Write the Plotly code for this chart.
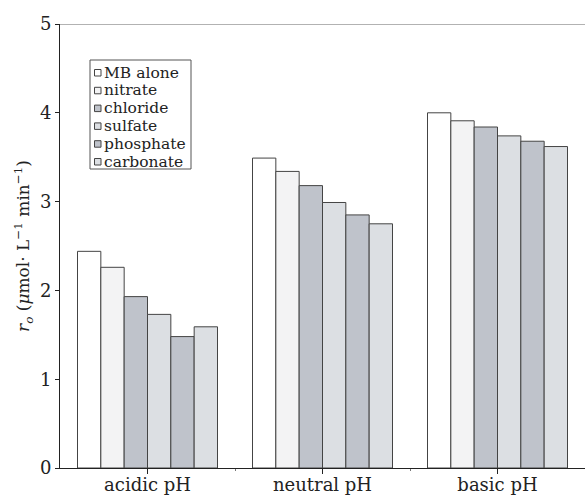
import plotly.graph_objects as go

categories = ["acidic pH", "neutral pH", "basic pH"]
series_names = ["MB alone", "nitrate", "chloride", "sulfate", "phosphate", "carbonate"]
mb_alone = [2.44, 3.49, 4.00]
nitrate = [2.26, 3.34, 3.91]
chloride = [1.93, 3.18, 3.84]
sulfate = [1.73, 2.99, 3.74]
phosphate = [1.48, 2.85, 3.68]
carbonate = [1.59, 2.75, 3.62]
y_ticks = [0, 1, 2, 3, 4, 5]

series_values = [mb_alone, nitrate, chloride, sulfate, phosphate, carbonate]
colors = ["#ffffff", "#f3f3f4", "#bfc3cb", "#dcdfe3", "#bfc3cb", "#dcdfe3"]

FONT = "DejaVu Serif"
W, H = 585, 497
ML, MR, MT, MB = 60, 0, 24, 29
PW, PH = W - ML - MR, H - MT - MB
xpos = list(range(len(categories)))


def px(x):
    return (x - ML) / PW


def py(y):
    return (H - MB - y) / PH


fig = go.Figure()
for name, vals, col in zip(series_names, series_values, colors):
    fig.add_trace(go.Bar(
        x=xpos, y=vals, name=name,
        marker=dict(color=col, line=dict(color="#444", width=1)),
    ))

fig.update_layout(
    width=W, height=H,
    margin=dict(l=ML, r=MR, t=MT, b=MB, autoexpand=False),
    paper_bgcolor="white", plot_bgcolor="white",
    barmode="group", bargap=0.2, bargroupgap=0,
    font=dict(family=FONT, size=18, color="#222"),
    showlegend=False,
    xaxis=dict(
        range=[-0.5, 2.5], tickvals=xpos, ticktext=categories,
        showline=True, linecolor="#222", linewidth=1,
        ticks="outside", ticklen=5, tickcolor="#222",
        ticklabelstandoff=-5,
        showgrid=False, zeroline=False, automargin=False,
        minor=dict(tickvals=[0.5, 1.5], ticks="outside", ticklen=2, tickcolor="#777", showgrid=False),
        tickfont=dict(family=FONT, size=18),
    ),
    yaxis=dict(
        range=[0, 5], tickvals=y_ticks,
        showline=True, linecolor="#222", linewidth=1,
        ticks="outside", ticklen=4, tickcolor="#222",
        showgrid=False, zeroline=False, automargin=False,
        tickfont=dict(family=FONT, size=18),
        title=dict(text="<i>r<sub>o</sub></i> (<i>μ</i>mol· L<sup>−1</sup> min<sup>−1</sup>)",
                   font=dict(family=FONT, size=17, color="#222"), standoff=5),
    ),
)
fig.add_shape(type="line", xref="paper", yref="y", x0=0, x1=1, y0=5, y1=5,
              line=dict(color="#999", width=1.5))

# custom compact legend (box, swatches, labels)
LX0, LY0, LX1, LY1 = 90, 60, 191, 169
ROW0, ROWH = 72.5, 17.8
fig.add_shape(type="rect", xref="paper", yref="paper",
              x0=px(LX0), x1=px(LX1), y0=py(LY1), y1=py(LY0),
              line=dict(color="#555", width=1), fillcolor="white", layer="above")
for i, (name, col) in enumerate(zip(series_names, colors)):
    cy = ROW0 + i * ROWH
    fig.add_shape(type="rect", xref="paper", yref="paper",
                  x0=px(94.5), x1=px(101), y0=py(cy + 3.5), y1=py(cy - 3),
                  line=dict(color="#444", width=1), fillcolor=col, layer="above")
    fig.add_annotation(text=name, xref="paper", yref="paper",
                       x=px(101.5), y=py(cy), xanchor="left", yanchor="middle",
                       showarrow=False, font=dict(family=FONT, size=15.5, color="#222"))

fig.write_html("out.html", config={"displayModeBar": False},
               post_script="document.body.style.margin='0';")
